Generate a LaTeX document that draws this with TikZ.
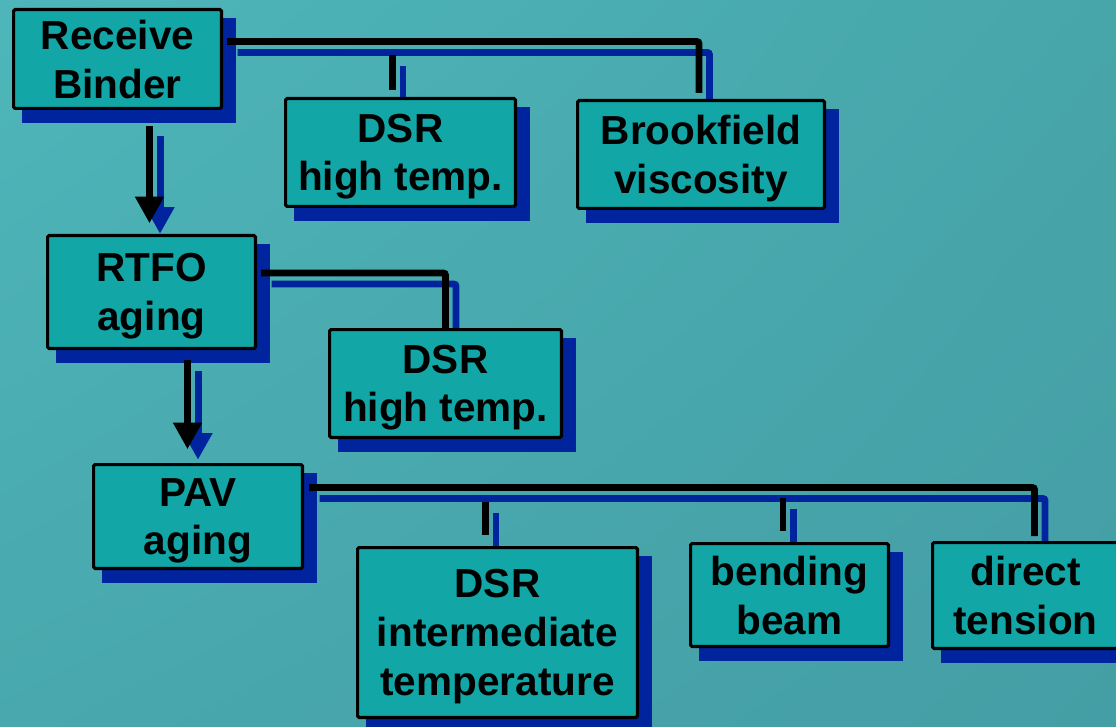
\documentclass[tikz,border=0pt]{standalone}
\usepackage{fontspec}
\setmainfont{Liberation Sans}
\usetikzlibrary{arrows.meta,calc,shadings}
\definecolor{bgUL}{RGB}{78,182,186}
\definecolor{bgUR}{RGB}{71,166,170}
\definecolor{bgLL}{RGB}{72,168,173}
\definecolor{bgLR}{RGB}{68,158,165}
\definecolor{boxfill}{RGB}{19,166,166}
\definecolor{shadowblue}{RGB}{0,36,158}
\pgfdeclarelayer{bglayer}
\pgfdeclarelayer{shad}
\pgfdeclarelayer{conn}
\pgfsetlayers{bglayer,shad,conn,main}
\tikzset{
  boxnode/.style={draw=black, line width=2.4pt, fill=boxfill, rounded corners=1pt,
    inner sep=0pt, align=center, text depth=0pt,
    font=\fontsize{30.4}{36.5}\selectfont\bfseries},
  bsize/.style 2 args={minimum width=#1*0.75pt-2.4pt, minimum height=#2*0.75pt-2.4pt},
  conn/.style={line width=5pt, rounded corners=1.5pt,
    preaction={draw=shadowblue, line width=5pt, transform canvas={shift={(10.5,11)}}}},
  arrowc/.style={line width=5.25pt, -{Triangle[width=20.5pt,length=20pt]},
    preaction={draw=shadowblue, line width=5.25pt, transform canvas={shift={(10.5,10.5)}}}},
}
\newcommand\boxshadow[1]{\fill[shadowblue] ([shift={(10,10)}]#1.north west) rectangle ([shift={(13,13)}]#1.south east);}
\begin{document}
\begin{tikzpicture}[x=0.75pt,y=-0.75pt]
\useasboundingbox (0,0) rectangle (1116,727);
\begin{pgfonlayer}{bglayer}
\shade[upper left=bgUL, upper right=bgUR, lower left=bgLL, lower right=bgLR] (0,0) rectangle (1116,727);
\end{pgfonlayer}

% boxes
\node[boxnode, bsize={211}{102}] (rb)   at (117.5,59)    {Receive\\Binder};
\node[boxnode, bsize={233}{111}] (dsr1) at (400.5,152.5) {DSR\\high temp.};
\node[boxnode, bsize={250}{111}] (bv)   at (701,154.5)   {Brookfield\\viscosity};
\node[boxnode, bsize={211}{116}] (rt)   at (151.5,292)   {RTFO\\aging};
\node[boxnode, bsize={235}{111}] (dsr2) at (445.5,383.5) {DSR\\high temp.};
\node[boxnode, bsize={212}{107}] (pav)  at (198,516.5)   {PAV\\aging};
\node[boxnode, bsize={283}{173}] (dsr3) at (497.5,632.5) {DSR\\intermediate\\temperature};
\node[boxnode, bsize={201}{106}] (bb)   at (789.5,595)   {bending\\beam};
\node[boxnode, bsize={189}{109}] (dt)   at (1025.5,595.5){direct\\tension};

% shadows
\begin{pgfonlayer}{shad}
\boxshadow{rb}\boxshadow{dsr1}\boxshadow{bv}\boxshadow{rt}\boxshadow{dsr2}
\boxshadow{pav}\boxshadow{dsr3}\boxshadow{bb}\boxshadow{dt}
\end{pgfonlayer}

% connectors
\begin{pgfonlayer}{conn}
\draw[conn] ([shift={(4,-17.5)}]rb.east) -| ([shift={(-2,-6)}]bv.north);
\draw[conn] ([shift={(-8,-42)}]dsr1.north) -- ([shift={(-8,-7)}]dsr1.north);
\draw[conn] ([shift={(4,-19)}]rt.east) -| (dsr2.north);
\draw[conn] ([shift={(5,-29)}]pav.east) -| ([shift={(9,-5)}]dt.north);
\draw[conn] ([shift={(-12,-44.3)}]dsr3.north) -- ([shift={(-12,-11)}]dsr3.north);
\draw[conn] ([shift={(-6.5,-44)}]bb.north) -- ([shift={(-6.5,-11)}]bb.north);
\coordinate (a1s) at ([shift={(32,16)}]rb.south);
\draw[arrowc, shorten >=8pt] (a1s) -- (a1s |- rt.north);
\coordinate (a2s) at ([shift={(36,10)}]rt.south);
\draw[arrowc, shorten >=10.3pt] (a2s) -- (a2s |- pav.north);
\end{pgfonlayer}
\end{tikzpicture}
\end{document}
